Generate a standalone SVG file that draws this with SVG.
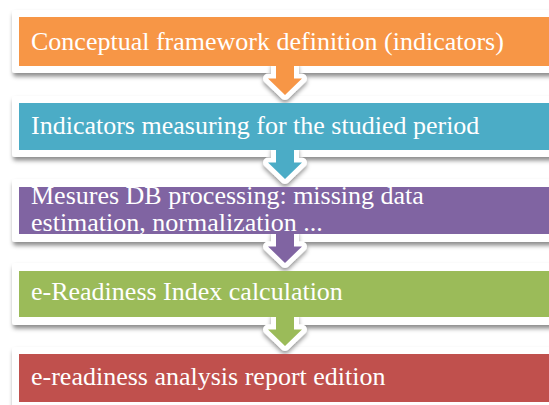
<svg xmlns="http://www.w3.org/2000/svg" width="549" height="405" viewBox="0 0 549 405">
  <defs>
    <filter id="shadow" x="-5%" y="-30%" width="110%" height="160%">
      <feDropShadow dx="1" dy="3.5" stdDeviation="2.2" flood-color="#000" flood-opacity="0.45"/>
    </filter>
    <filter id="tipShadow" x="-30%" y="-30%" width="160%" height="160%">
      <feDropShadow dx="0" dy="3" stdDeviation="2" flood-color="#000" flood-opacity="0.4"/>
    </filter>
  </defs>
  <style>
    .frame { fill: #ffffff; filter: url(#shadow); }
    .outline { fill: #ffffff; stroke: #ffffff; stroke-width: 10; stroke-linejoin: round; filter: url(#tipShadow); }
    .label { font-family: "Liberation Serif", "Times New Roman", serif; font-size: 26px; fill: #ffffff; }
    .orange { fill: #F79646; }
    .teal { fill: #4BACC6; }
    .purple { fill: #8064A2; }
    .green { fill: #9BBB59; }
    .red { fill: #C0504D; }
  </style>

  <rect width="549" height="405" fill="#ffffff"/>

  <!-- white frames with drop shadows -->
  <g id="frames">
    <rect class="frame" x="12" y="10" width="560" height="63" rx="3"/>
    <rect class="frame" x="12" y="96" width="560" height="61" rx="3"/>
    <rect class="frame" x="12" y="179" width="560" height="63" rx="3"/>
    <rect class="frame" x="12" y="263" width="560" height="62" rx="3"/>
    <rect class="frame" x="12" y="347" width="560" height="64" rx="3"/>
  </g>

  <!-- connectors: white outlines of the down arrows -->
  <g id="connectors">
    <g id="arrow-outlines">
      <polygon class="outline" points="276,66 276,78.5 268,78.5 285,95 302,78.5 294,78.5 294,66"/>
      <polygon class="outline" points="276,150 276,162.5 268,162.5 285,179 302,162.5 294,162.5 294,150"/>
      <polygon class="outline" points="276,234 276,246.5 268,246.5 285,263 302,246.5 294,246.5 294,234"/>
      <polygon class="outline" points="276,317 276,329.5 268,329.5 285,346 302,329.5 294,329.5 294,317"/>
    </g>
  </g>

  <!-- steps -->
  <g id="step1">
    <rect class="orange" x="19" y="17" width="540" height="49"/>
    <polygon class="orange" points="276,62 276,78.5 268,78.5 285,95 302,78.5 294,78.5 294,62"/>
    <text class="label" x="31" y="50">Conceptual framework definition (indicators)</text>
  </g>
  <g id="step2">
    <rect class="teal" x="19" y="103" width="540" height="47"/>
    <polygon class="teal" points="276,146 276,162.5 268,162.5 285,179 302,162.5 294,162.5 294,146"/>
    <text class="label" x="31" y="134">Indicators measuring for the studied period</text>
  </g>
  <g id="step3">
    <rect class="purple" x="19" y="187" width="540" height="47"/>
    <polygon class="purple" points="276,230 276,246.5 268,246.5 285,263 302,246.5 294,246.5 294,230"/>
    <text class="label" x="31" y="204">Mesures DB processing: missing data</text>
    <text class="label" x="31" y="231">estimation, normalization ...</text>
  </g>
  <g id="step4">
    <rect class="green" x="19" y="271" width="540" height="46"/>
    <polygon class="green" points="276,313 276,329.5 268,329.5 285,346 302,329.5 294,329.5 294,313"/>
    <text class="label" x="31" y="300">e-Readiness Index calculation</text>
  </g>
  <g id="step5">
    <rect class="red" x="19" y="354" width="540" height="48"/>
    <text class="label" x="31" y="385">e-readiness analysis report edition</text>
  </g>
</svg>
